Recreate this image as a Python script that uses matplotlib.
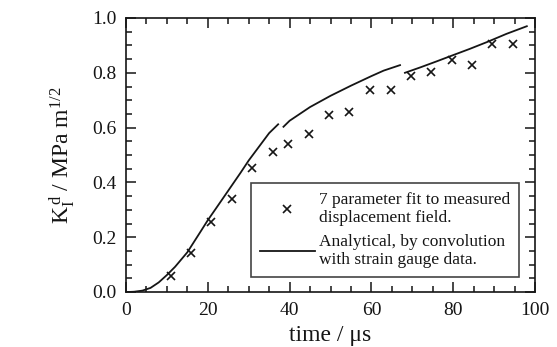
"""
Dynamic stress intensity factor vs time: displacement-field fit
compared with analytical convolution of strain gauge data.
"""

import numpy as np

import matplotlib
matplotlib.use('Agg')
import matplotlib.pyplot as plt
from matplotlib.ticker import MultipleLocator

plt.rcParams['font.family'] = ['Liberation Serif', 'DejaVu Serif']
plt.rcParams['mathtext.fontset'] = 'custom'
plt.rcParams['mathtext.rm'] = 'Liberation Serif'
plt.rcParams['mathtext.it'] = 'Liberation Serif:italic'

INK = '#151515'

# ── 7 parameter fit (crosses) ─────────────────────────────────
fit_time = [10.9, 15.9, 20.7, 25.8, 30.8, 35.9, 39.7, 44.7, 49.7,
            54.5, 59.6, 64.7, 69.6, 74.6, 79.6, 84.6, 89.6, 94.7]
fit_k = [0.058, 0.143, 0.255, 0.340, 0.453, 0.512, 0.539, 0.577, 0.645,
         0.656, 0.737, 0.737, 0.788, 0.802, 0.846, 0.827, 0.905, 0.906]

# ── Analytical curve, drawn in three separate pieces ──────────
ana1_time = [0.5, 2, 4, 6, 8, 10, 12, 15, 18, 20, 22, 25, 28, 30, 33, 35, 37.2]
ana1_k = [0.0, 0.001, 0.005, 0.015, 0.035, 0.062, 0.092, 0.145, 0.215,
          0.262, 0.305, 0.370, 0.435, 0.480, 0.540, 0.580, 0.612]
ana2_time = [38.5, 40, 45, 50, 55, 60, 63, 67]
ana2_k = [0.603, 0.625, 0.675, 0.716, 0.753, 0.788, 0.808, 0.828]
ana3_time = [68.2, 72, 76, 79, 84, 88.4, 93, 98]
ana3_k = [0.800, 0.820, 0.842, 0.859, 0.887, 0.913, 0.942, 0.970]

fit_label = '7 parameter fit to measured\ndisplacement field.'
ana_label = 'Analytical, by convolution\nwith strain gauge data.'

fig = plt.figure(figsize=(5.57, 3.47), dpi=100)
fig.patch.set_facecolor('white')
ax = fig.add_axes([126 / 557, 55 / 347, 409 / 557, 274 / 347])

ax.plot(fit_time, fit_k, linestyle='none', marker='x', markersize=6,
        markeredgewidth=1.2, color=INK, label=fit_label)
ax.plot(ana1_time, ana1_k, color=INK, linewidth=1.3, label=ana_label)
ax.plot(ana2_time, ana2_k, color=INK, linewidth=1.3)
ax.plot(ana3_time, ana3_k, color=INK, linewidth=1.3)

ax.set_xlim(0, 100)
ax.set_ylim(0, 1.0)
ax.xaxis.set_major_locator(MultipleLocator(20))
ax.xaxis.set_minor_locator(MultipleLocator(5))
ax.yaxis.set_major_locator(MultipleLocator(0.2))
ax.yaxis.set_minor_locator(MultipleLocator(0.05))
ax.yaxis.set_major_formatter(matplotlib.ticker.FormatStrFormatter('%.1f'))
ax.tick_params(which='both', direction='in', top=True, right=True,
               color=INK, width=1.1, labelsize=14, pad=7, labelcolor=INK)
ax.tick_params(which='major', length=7)
ax.tick_params(which='minor', length=4)
for s in ax.spines.values():
    s.set_linewidth(1.2)
    s.set_color(INK)

ax.set_xlabel('time / \u03bcs', fontsize=17, color=INK)
ax.xaxis.set_label_coords(0.5, -0.12)
ax.set_ylabel(r'K$_\mathrm{I}^{\,\mathrm{d}}$ / MPa m$^{1/2}$',
              fontsize=17, color=INK)
ax.yaxis.set_label_coords(-0.118, 0.5)

leg = ax.legend(loc='lower right', bbox_to_anchor=(0.96, 0.055),
                fontsize=12.5, frameon=True, fancybox=False,
                handlelength=3.2, handletextpad=0.2, labelspacing=0.45,
                borderpad=0.5, borderaxespad=0)
leg.get_frame().set_edgecolor(INK)
leg.get_frame().set_linewidth(1.2)
for t in leg.get_texts():
    t.set_color(INK)

plt.savefig('out.png', dpi=100, facecolor='white')
plt.close()
